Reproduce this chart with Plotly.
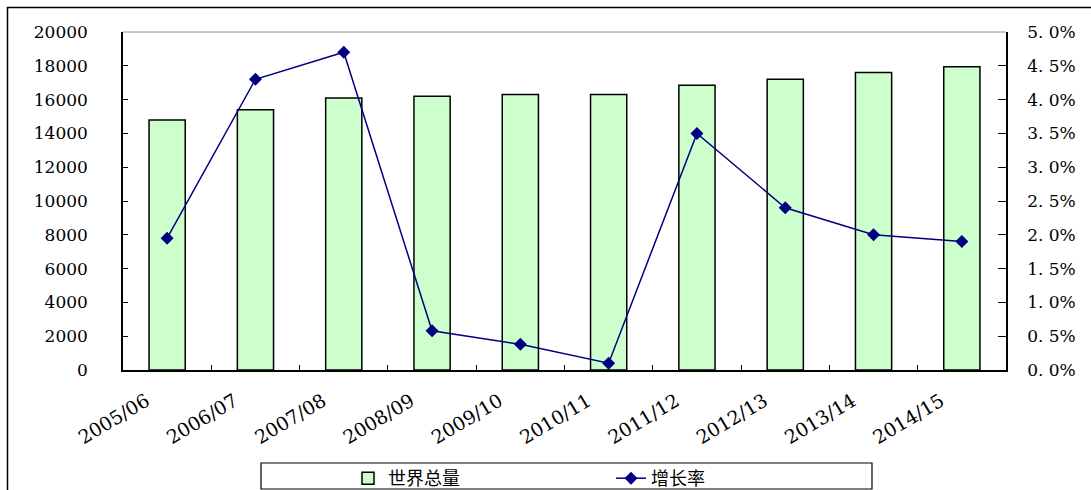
import plotly.graph_objects as go

categories = ["2005/06", "2006/07", "2007/08", "2008/09", "2009/10",
              "2010/11", "2011/12", "2012/13", "2013/14", "2014/15"]
world_total = [14800, 15400, 16100, 16200, 16300, 16300, 16850, 17200, 17600, 17950]
growth_rate = [0.0195, 0.043, 0.047, 0.0058, 0.0038, 0.0010, 0.035, 0.024, 0.020, 0.019]
left_ticks = [0, 2000, 4000, 6000, 8000, 10000, 12000, 14000, 16000, 18000, 20000]
right_ticks = [0, 0.005, 0.01, 0.015, 0.02, 0.025, 0.03, 0.035, 0.04, 0.045, 0.05]
right_labels = ["0. 0%", "0. 5%", "1. 0%", "1. 5%", "2. 0%", "2. 5%",
                "3. 0%", "3. 5%", "4. 0%", "4. 5%", "5. 0%"]

num_font = dict(family="DejaVu Serif", size=17, color="black")
x_font = dict(family="DejaVu Serif", size=19, color="black")

fig = go.Figure()
fig.add_trace(go.Bar(
    x=categories, y=world_total, name="世界总量",
    marker=dict(color="#CCFFCC", line=dict(color="black", width=1.5)),
    yaxis="y",
))
fig.add_trace(go.Scatter(
    x=categories, y=growth_rate, name="增长率", mode="lines+markers",
    line=dict(color="#000080", width=1.5),
    marker=dict(symbol="diamond", size=10, color="#000080"),
    yaxis="y2",
))

fig.update_layout(
    width=1091, height=490,
    margin=dict(l=123, r=85, t=32, b=120, autoexpand=False),
    paper_bgcolor="white", plot_bgcolor="white",
    bargap=0.59,
    showlegend=True,
    legend=dict(
        orientation="h", x=(348 - 123) / 883, y=-(460 - 370) / 338,
        xanchor="left", yanchor="top",
        entrywidth=218, entrywidthmode="pixels",
        font=dict(family="Noto Sans CJK SC", size=18, color="black"),
        bgcolor="rgba(0,0,0,0)", borderwidth=0,
    ),
    xaxis=dict(
        type="category", range=[-0.5, len(categories) - 0.5],
        showline=True, linecolor="black", linewidth=1.5,
        ticks="inside", ticklen=5, tickcolor="black", tickson="boundaries",
        tickangle=-31, tickfont=x_font, showgrid=False, automargin=False,
        ticklabelshift=-21, ticklabelstandoff=11,
    ),
    yaxis=dict(
        range=[0, 20000], tickvals=left_ticks, tickformat="d",
        showline=True, linecolor="black",
        linewidth=1.5, ticks="inside", ticklen=5, tickcolor="black",
        tickfont=num_font, showgrid=False, zeroline=False,
        ticklabelstandoff=30, automargin=False,
    ),
    yaxis2=dict(
        range=[0, 0.05], tickvals=right_ticks, ticktext=right_labels,
        overlaying="y", side="right", showline=True, linecolor="black",
        linewidth=1.5, ticks="inside", ticklen=8, tickcolor="black",
        tickfont=num_font, showgrid=False, zeroline=False,
        ticklabelstandoff=16, automargin=False,
    ),
    shapes=[
        dict(type="line", xref="paper", yref="paper", x0=0, x1=1, y0=1, y1=1,
             line=dict(color="#909090", width=1)),
        dict(type="rect", xref="paper", yref="paper",
             x0=(261 - 123) / 883, x1=(872 - 123) / 883,
             y0=-(489 - 370) / 338, y1=-(463 - 370) / 338,
             line=dict(color="black", width=1.2), fillcolor="rgba(0,0,0,0)"),
        dict(type="rect", xref="paper", yref="paper",
             x0=(7.5 - 123) / 883, x1=(1100 - 123) / 883,
             y0=-(500 - 370) / 338, y1=1 + (32 - 7.5) / 338,
             line=dict(color="black", width=1.5), fillcolor="rgba(0,0,0,0)"),
    ],
)

fig.write_html("out.html", config={"displayModeBar": False},
               post_script="document.body.style.margin='0';")
